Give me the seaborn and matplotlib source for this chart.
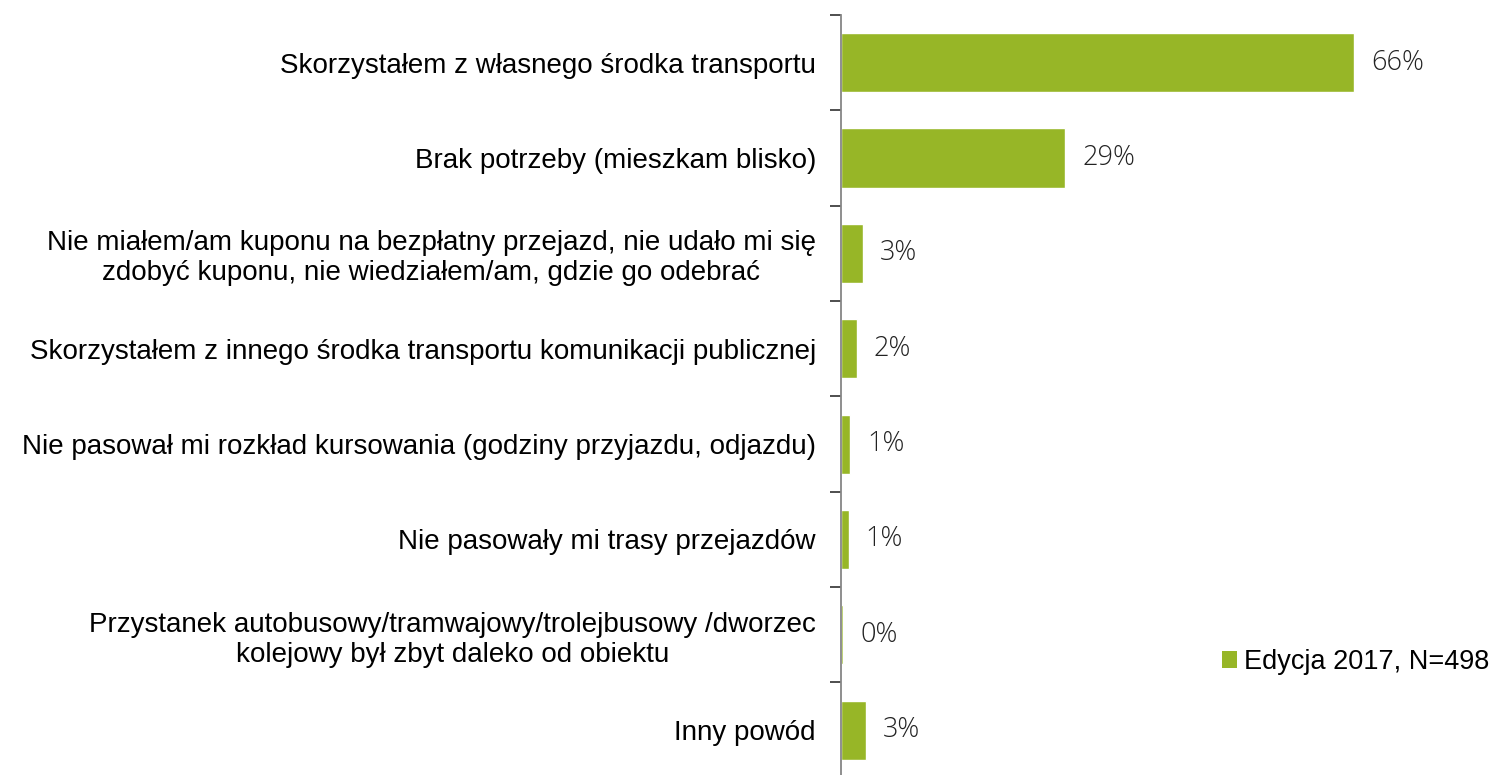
import matplotlib
matplotlib.use("Agg")
import matplotlib.pyplot as plt
from matplotlib.patches import Patch
import seaborn as sns
import pandas as pd

# Survey answers (share of respondents, %)
categories = [
    "Skorzystałem z własnego środka transportu",
    "Brak potrzeby (mieszkam blisko)",
    "Nie miałem/am kuponu na bezpłatny przejazd, nie udało mi się\nzdobyć kuponu, nie wiedziałem/am, gdzie go odebrać",
    "Skorzystałem z innego środka transportu komunikacji publicznej",
    "Nie pasował mi rozkład kursowania (godziny przyjazdu, odjazdu)",
    "Nie pasowały mi trasy przejazdów",
    "Przystanek autobusowy/tramwajowy/trolejbusowy /dworzec\nkolejowy był zbyt daleko od obiektu",
    "Inny powód",
]
values = [65.9, 28.8, 2.8, 2.0, 1.2, 1.0, 0.3, 3.2]
series_name = "Edycja 2017, N=498"

GREEN = "#97B627"

sns.set_theme(style="white")
plt.rcParams["font.family"] = ["Liberation Sans", "DejaVu Sans"]

df = pd.DataFrame({"kategoria": categories, "odsetek": values})

W, H = 1499, 775
fig = plt.figure(figsize=(W / 100, H / 100), dpi=100)
ax_left, ax_top, cat_pitch = 841, 15, 95.35
ax_h = cat_pitch * len(categories)
ax = fig.add_axes([ax_left / W, (H - ax_top - ax_h) / H, (W - ax_left) / W, ax_h / H])

sns.barplot(data=df, x="odsetek", y="kategoria", color=GREEN, width=0.62,
            orient="h", ax=ax, saturation=1)

px_per_unit = 7.79
ax.set_xlim(0, (W - ax_left) / px_per_unit)
ax.set_ylim(len(categories) - 0.5, -0.5)

ax.set_xlabel("")
ax.set_ylabel("")
ax.set_xticks([])

for side in ("top", "right", "bottom"):
    ax.spines[side].set_visible(False)
ax.spines["left"].set_color("#868686")
ax.spines["left"].set_linewidth(1.3)

# category labels centred on the bars, boundary tick marks between them
ax.set_yticks(range(len(categories)))
ax.set_yticklabels(categories, fontsize=20, color="black", multialignment="center")
ax.tick_params(axis="y", which="major", left=False, length=0, pad=18)
ax.set_yticks([i - 0.5 for i in range(len(categories) + 1)], minor=True)
ax.tick_params(axis="y", which="minor", left=True, length=8, width=1.3,
               color="#404040", direction="out")

# value labels
container = ax.containers[0]
ax.bar_label(container, labels=[f"{v:.0f}%" for v in values], padding=12,
             fontsize=19.5, color="#222222", family=["Open Sans", "DejaVu Sans"],
             fontweight="light")

fig.legend(handles=[Patch(facecolor=GREEN, edgecolor="none", label=series_name)],
           loc="center left", bbox_to_anchor=(1211 / W, 1 - 662 / H),
           frameon=False, fontsize=19.5, handlelength=0.55, handleheight=0.55,
           handletextpad=0.25, borderaxespad=0, labelcolor="black")

fig.savefig("out.png", dpi=100)
